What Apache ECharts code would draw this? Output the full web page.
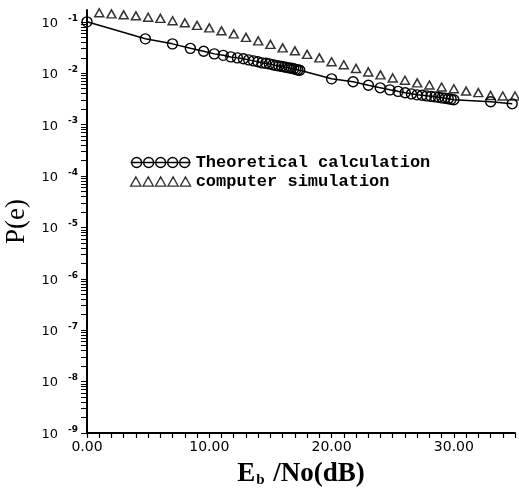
<!DOCTYPE html>
<html><head><meta charset="utf-8">
<script src="https://cdn.jsdelivr.net/npm/echarts@6/dist/echarts.min.js"></script>
<style>html,body{margin:0;padding:0;background:#fff}#c{width:519px;height:489px}</style>
</head><body><div id="c"></div>
<script>
// ---- data ----
const theoryX = [0.00,4.77,6.99,8.45,9.54,10.41,11.14,11.76,12.30,12.79,13.22,13.62,13.98,14.31,14.62,14.91,15.19,15.44,15.68,15.91,16.13,16.33,16.53,16.72,16.90,17.08,17.24,17.40,20.00,21.76,23.01,23.98,24.77,25.44,26.02,26.53,26.99,27.40,27.78,28.13,28.45,28.75,29.03,29.29,29.54,29.78,30.00,33.01,34.77];
const theoryP = [0.100,0.0467,0.0373,0.0305,0.0267,0.0238,0.0223,0.0208,0.0199,0.0191,0.0182,0.0174,0.0167,0.0159,0.0156,0.0152,0.0146,0.0142,0.0139,0.0136,0.0133,0.0130,0.0127,0.0125,0.0122,0.0119,0.0116,0.0114,0.00778,0.00681,0.00582,0.00520,0.00475,0.00444,0.00416,0.00397,0.00380,0.00372,0.00363,0.00355,0.00347,0.00340,0.00332,0.00325,0.00318,0.00311,0.00304,0.00278,0.00254];
const simX = [1,2,3,4,5,6,7,8,9,10,11,12,13,14,15,16,17,18,19,20,21,22,23,24,25,26,27,28,29,30,31,32,33,34,35];
const simP = [0.150,0.143,0.137,0.131,0.123,0.117,0.105,0.0957,0.0855,0.0764,0.0669,0.0584,0.0499,0.0427,0.0365,0.0312,0.0273,0.0233,0.0199,0.0167,0.0146,0.0124,0.0106,0.0093,0.0081,0.0073,0.0065,0.0059,0.0054,0.0050,0.0045,0.0042,0.0037,0.0036,0.0036];
const seriesNames = ['Theoretical calculation', 'computer simulation'];
const xLabelValues = [0, 10, 20, 30];
const xLabelTexts = ['0.00', '10.00', '20.00', '30.00'];
const yLabelExponents = [-1, -2, -3, -4, -5, -6, -7, -8, -9];
const yLabelTexts = ['-1', '-2', '-3', '-4', '-5', '-6', '-7', '-8', '-9'];
const xMin = 0, xMax = 35;
const yMin = 1e-9, yMax = 0.17;

// tick positions of the log axis: 1..9 x 10^e
const yTickValues = [];
for (let e = -9; e <= -1; e++) {
  for (let k = 1; k <= 9; k++) {
    const v = k * Math.pow(10, e);
    if (v <= yMax) yTickValues.push(v);
  }
}
const yLabelValues = yLabelExponents.map(e => Math.pow(10, e));

const circPath = 'path://M0,5L60,5M1,5a5,5 0 1,0 10,0a5,5 0 1,0 -10,0M13,5a5,5 0 1,0 10,0a5,5 0 1,0 -10,0M25,5a5,5 0 1,0 10,0a5,5 0 1,0 -10,0M37,5a5,5 0 1,0 10,0a5,5 0 1,0 -10,0M49,5a5,5 0 1,0 10,0a5,5 0 1,0 -10,0';
const triPath = 'path://M1,10L6,1L11,10ZM13,10L18,1L23,10ZM25,10L30,1L35,10ZM37,10L42,1L47,10ZM49,10L54,1L59,10Z';

const chart = echarts.init(document.getElementById('c'), null, {renderer: 'canvas'});
chart.setOption({
  animation: false,
  backgroundColor: '#fff',
  grid: {left: 87, top: 10, right: 4, bottom: 56, containLabel: false, outerBoundsMode: 'none'},
  legend: {
    orient: 'vertical', left: 130, top: 154, padding: 0, itemWidth: 60, itemHeight: 10, itemGap: 2,
    selectedMode: false,
    itemStyle: {color: 'transparent', borderColor: '#000', borderWidth: 1.3},
    textStyle: {fontFamily: 'Liberation Mono', fontWeight: 'bold', fontSize: 17, color: '#000'},
    data: [{name: seriesNames[0], icon: circPath}, {name: seriesNames[1], icon: triPath}]
  },
  xAxis: {
    type: 'value', min: xMin, max: xMax, interval: 1,
    axisLine: {lineStyle: {color: '#000', width: 2}},
    axisTick: {length: 5, lineStyle: {color: '#000', width: 1.2}},
    splitLine: {show: false},
    axisLabel: {
      color: '#000', fontFamily: 'DejaVu Sans', fontSize: 14, margin: 7,
      formatter: function (v) {
        const r = Math.round(v);
        if (Math.abs(v - r) > 1e-9) return '';
        const i = xLabelValues.indexOf(r);
        return i >= 0 ? xLabelTexts[i] : '';
      }
    },
    name: '{e|E}{s|b}{e| /No(dB)}', nameLocation: 'middle', nameGap: 27,
    nameTextStyle: {
      rich: {
        e: {fontFamily: 'Liberation Serif', fontWeight: 'bold', fontSize: 27, color: '#000', lineHeight: 28},
        s: {fontFamily: 'Liberation Serif', fontWeight: 'bold', fontSize: 15, color: '#000', lineHeight: 28, verticalAlign: 'bottom', padding: [0, 2, 0, 1]}
      }
    }
  },
  yAxis: {
    type: 'log', logBase: 10, min: yMin, max: yMax,
    axisLine: {lineStyle: {color: '#000', width: 2}},
    axisTick: {show: true, length: 6, customValues: yTickValues, lineStyle: {color: '#000', width: 1}},
    splitLine: {show: false},
    minorTick: {show: false},
    axisLabel: {
      margin: 9,
      customValues: yLabelValues,
      formatter: function (v) {
        const e = Math.log10(v);
        const r = Math.round(e);
        if (Math.abs(e - r) > 1e-6) return '';
        const i = yLabelExponents.indexOf(r);
        if (i < 0) return '';
        return '{m|10}{x|' + yLabelTexts[i] + '}';
      },
      rich: {
        m: {fontFamily: 'DejaVu Sans', fontSize: 13, color: '#000', lineHeight: 16, verticalAlign: 'bottom'},
        x: {fontFamily: 'DejaVu Sans', fontSize: 9, fontWeight: 'bold', color: '#000', lineHeight: 16, verticalAlign: 'top', padding: [0, 0, 0, 10]}
      }
    },
    name: 'P(e)', nameLocation: 'middle', nameGap: 56,
    nameTextStyle: {fontFamily: 'Liberation Serif', fontSize: 27, color: '#000'}
  },
  series: [{
    type: 'line', name: seriesNames[0],
    data: theoryX.map((x, i) => [x, theoryP[i]]),
    symbol: 'circle', symbolSize: 10, showAllSymbol: true,
    lineStyle: {color: '#000', width: 1.5},
    itemStyle: {color: 'transparent', borderColor: '#000', borderWidth: 1.4},
    z: 3
  }, {
    type: 'scatter', name: seriesNames[1],
    data: simX.map((x, i) => [x, simP[i]]),
    symbol: 'triangle', symbolSize: [9, 8],
    itemStyle: {color: 'transparent', borderColor: '#000', borderWidth: 1.5},
    z: 4
  }]
});
</script>
</body></html>
